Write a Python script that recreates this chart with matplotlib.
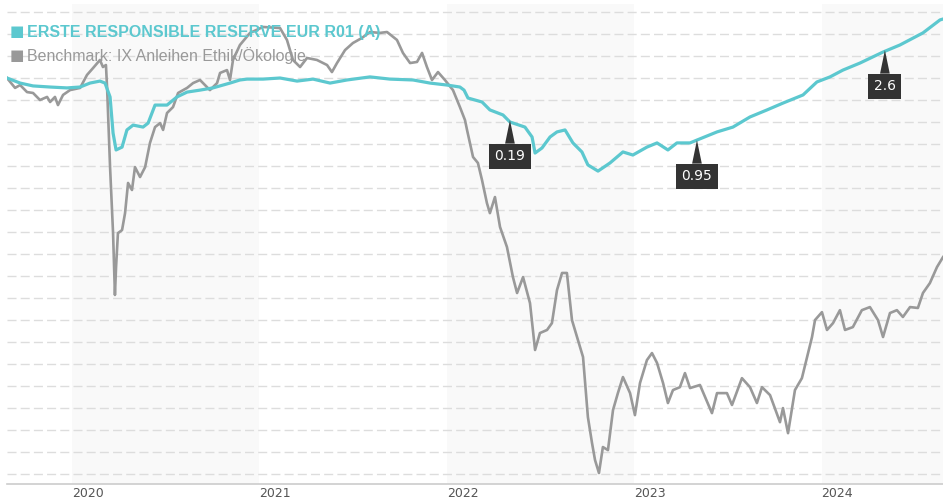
import matplotlib.pyplot as plt

# decimal years / performance in %
fund_x = [2019.653, 2019.723, 2019.792, 2019.883, 2019.973, 2020.043, 2020.096, 2020.149,
          2020.176, 2020.203, 2020.219, 2020.235, 2020.267, 2020.293, 2020.326, 2020.379,
          2020.406, 2020.443, 2020.507, 2020.560, 2020.614, 2020.683, 2020.752, 2020.843,
          2020.896, 2020.934, 2021.019, 2021.110, 2021.201, 2021.286, 2021.377, 2021.467,
          2021.590, 2021.697, 2021.820, 2021.910, 2022.001, 2022.070, 2022.092, 2022.113,
          2022.188, 2022.230, 2022.300, 2022.337, 2022.417, 2022.455, 2022.471, 2022.508,
          2022.551, 2022.588, 2022.631, 2022.673, 2022.721, 2022.753, 2022.807, 2022.871,
          2022.940, 2022.993, 2023.068, 2023.122, 2023.180, 2023.228, 2023.298, 2023.335,
          2023.442, 2023.527, 2023.618, 2023.709, 2023.794, 2023.901, 2023.975, 2024.045,
          2024.114, 2024.205, 2024.328, 2024.418, 2024.541, 2024.632, 2024.648]
fund_y = [0.00, -0.23, -0.36, -0.41, -0.45, -0.41, -0.23, -0.14,
          -0.23, -0.86, -2.50, -3.27, -3.14, -2.36, -2.14, -2.23,
          -2.05, -1.23, -1.23, -0.86, -0.64, -0.55, -0.45, -0.23,
          -0.09, -0.05, -0.05, 0.00, -0.14, -0.05, -0.23, -0.09,
          0.05, -0.05, -0.09, -0.23, -0.32, -0.41, -0.55, -0.91,
          -1.09, -1.45, -1.68, -2.00, -2.23, -2.68, -3.41, -3.18,
          -2.68, -2.45, -2.36, -2.95, -3.36, -3.95, -4.23, -3.86,
          -3.36, -3.50, -3.14, -2.95, -3.27, -2.95, -2.95, -2.82,
          -2.45, -2.23, -1.77, -1.45, -1.14, -0.77, -0.18, 0.05,
          0.36, 0.68, 1.18, 1.50, 2.05, 2.64, 2.68]

bench_x = [2019.653, 2019.696, 2019.723, 2019.760, 2019.792, 2019.829, 2019.867, 2019.883,
           2019.909, 2019.925, 2019.952, 2019.989, 2020.043, 2020.080, 2020.112, 2020.149,
           2020.165, 2020.181, 2020.187, 2020.203, 2020.219, 2020.229, 2020.235, 2020.245,
           2020.267, 2020.283, 2020.299, 2020.320, 2020.336, 2020.363, 2020.390, 2020.416,
           2020.443, 2020.470, 2020.486, 2020.507, 2020.539, 2020.566, 2020.614, 2020.646,
           2020.683, 2020.736, 2020.774, 2020.790, 2020.827, 2020.843, 2020.859, 2020.896,
           2020.950, 2021.019, 2021.110, 2021.147, 2021.179, 2021.217, 2021.254, 2021.307,
           2021.361, 2021.387, 2021.414, 2021.457, 2021.499, 2021.547, 2021.590, 2021.643,
           2021.681, 2021.734, 2021.766, 2021.804, 2021.841, 2021.868, 2021.894, 2021.921,
           2021.953, 2021.990, 2022.033, 2022.070, 2022.097, 2022.108, 2022.140, 2022.166,
           2022.188, 2022.214, 2022.230, 2022.257, 2022.284, 2022.321, 2022.353, 2022.375,
           2022.407, 2022.444, 2022.471, 2022.497, 2022.535, 2022.561, 2022.588, 2022.615,
           2022.641, 2022.668, 2022.695, 2022.727, 2022.753, 2022.775, 2022.791, 2022.812,
           2022.833, 2022.860, 2022.887, 2022.913, 2022.940, 2022.978, 2023.004, 2023.031,
           2023.068, 2023.095, 2023.122, 2023.154, 2023.180, 2023.207, 2023.244, 2023.271,
           2023.298, 2023.351, 2023.415, 2023.442, 2023.495, 2023.522, 2023.575, 2023.618,
           2023.655, 2023.682, 2023.725, 2023.778, 2023.794, 2023.821, 2023.858, 2023.895,
           2023.949, 2023.965, 2024.002, 2024.029, 2024.061, 2024.098, 2024.125, 2024.167,
           2024.215, 2024.258, 2024.301, 2024.328, 2024.365, 2024.402, 2024.434, 2024.472,
           2024.514, 2024.541, 2024.578, 2024.616, 2024.648]
bench_y = [0.00, -0.45, -0.32, -0.64, -0.68, -1.00, -0.86, -1.09,
           -0.86, -1.23, -0.77, -0.55, -0.45, 0.14, 0.45, 0.82,
           0.50, 0.59, -0.41, -4.05, -7.05, -9.86, -8.59, -7.05,
           -6.91, -6.14, -4.77, -5.09, -4.05, -4.50, -4.05, -2.95,
           -2.23, -2.05, -2.36, -1.59, -1.32, -0.68, -0.45, -0.23,
           -0.09, -0.55, -0.23, 0.23, 0.36, -0.09, 0.82, 1.50,
           2.05, 2.32, 2.27, 1.73, 0.82, 0.50, 0.91, 0.82,
           0.59, 0.27, 0.68, 1.27, 1.59, 1.82, 2.09, 2.05,
           2.09, 1.73, 1.14, 0.68, 0.73, 1.14, 0.50, -0.09,
           0.27, -0.09, -0.55, -1.32, -1.91, -2.36, -3.59, -3.86,
           -4.64, -5.68, -6.14, -5.41, -6.77, -7.68, -9.05, -9.77,
           -9.05, -10.23, -12.36, -11.59, -11.45, -11.14, -9.64, -8.86,
           -8.86, -11.00, -11.77, -12.68, -15.41, -16.59, -17.36, -17.95,
           -16.77, -16.91, -15.09, -14.32, -13.59, -14.32, -15.32, -13.86,
           -12.82, -12.50, -12.95, -13.86, -14.77, -14.18, -14.05, -13.41,
           -14.09, -13.95, -15.23, -14.32, -14.32, -14.86, -13.64, -14.05,
           -14.77, -14.05, -14.41, -15.64, -15.00, -16.14, -14.18, -13.64,
           -11.77, -11.00, -10.64, -11.45, -11.14, -10.55, -11.45, -11.32,
           -10.55, -10.41, -11.00, -11.77, -10.68, -10.55, -10.86, -10.41,
           -10.45, -9.77, -9.32, -8.59, -8.14]

ann_x = [2022.337, 2023.335, 2024.338]
ann_y = [-1.91, -2.82, 1.27]
ann_labels = ['0.19', '0.95', '2.6']

years = [2020, 2021, 2022, 2023, 2024]
shaded = [(2020, 2021), (2022, 2023), (2024, 2025)]

fund_name = 'ERSTE RESPONSIBLE RESERVE EUR R01 (A)'
bench_name = 'Benchmark: IX Anleihen Ethik/Ökologie'
teal = '#5cc8cf'
grey = '#999999'

fig = plt.figure(figsize=(9.43, 5.03), dpi=100)
ax = fig.add_axes([7 / 943, 19 / 503, 936 / 943, 484 / 503])
ax.set_xlim(2019.653, 2024.648)
ax.set_ylim(-18.45, 3.545)

for a, b in shaded:
    ax.axvspan(a, b, ymax=1 - 4 / 484, color='#f9f9f9', lw=0, zorder=0)

for v in range(-18, 4):
    ax.axhline(v, color='#dddddd', lw=1, dashes=(6.5, 3), zorder=1)

ax.plot(bench_x, bench_y, color=grey, lw=1.9, zorder=3)
ax.plot(fund_x, fund_y, color=teal, lw=2.3, zorder=4)

for x, y, s in zip(ann_x, ann_y, ann_labels):
    ax.annotate(s, xy=(x, y), xytext=(0, -26), textcoords='offset points',
                ha='center', va='center', color='white', fontsize=10,
                bbox=dict(boxstyle='square,pad=0.4', fc='#333333', ec='none'),
                arrowprops=dict(arrowstyle='wedge,tail_width=0.7', fc='#333333',
                                ec='none', shrinkA=0, shrinkB=0),
                zorder=6)

ax.set_yticks([])
ax.set_xticks(years)
ax.set_xticklabels([str(y) for y in years], ha='left', color='#555555', fontsize=9)
ax.tick_params(axis='x', length=0, pad=2)
for side in ['top', 'left', 'right']:
    ax.spines[side].set_visible(False)
ax.spines['bottom'].set_color('#cccccc')
ax.spines['bottom'].set_linewidth(1.2)

# legend drawn as text on top of the plot
fam = ['Liberation Sans', 'DejaVu Sans']
fig.text(10 / 943, 1 - 32 / 503, '\u25a0', color=teal, fontsize=11, va='center', family=['DejaVu Sans'])
fig.text(27 / 943, 1 - 32 / 503, fund_name, color=teal, fontsize=11.5, fontweight='bold',
         va='center', family=fam)
fig.text(10 / 943, 1 - 56 / 503, '\u25a0', color=grey, fontsize=11, va='center', family=['DejaVu Sans'])
fig.text(27 / 943, 1 - 56 / 503, bench_name, color=grey, fontsize=11.5, va='center', family=fam)

fig.savefig('out.png', dpi=100)
